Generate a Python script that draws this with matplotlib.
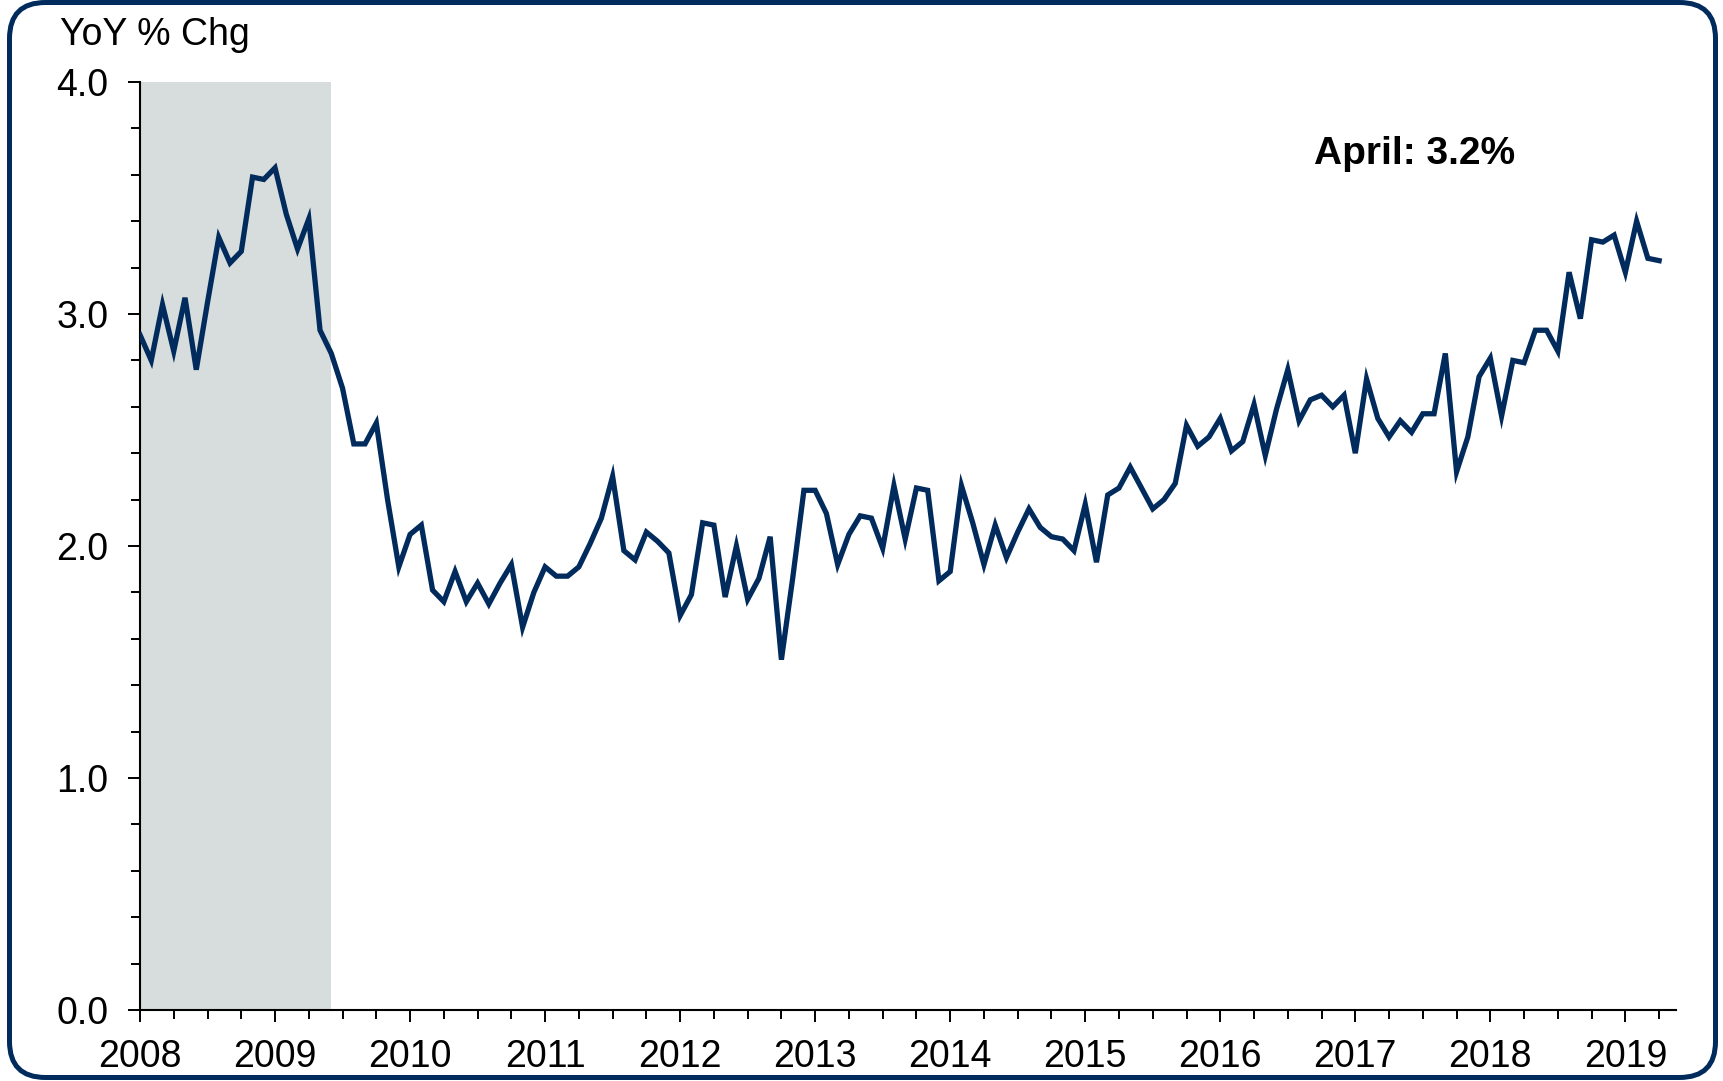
import numpy as np
import pandas as pd
import matplotlib
matplotlib.use("Agg")
import matplotlib.pyplot as plt
from matplotlib.patches import FancyBboxPatch
from matplotlib.ticker import MultipleLocator, FixedLocator

plt.rcParams['font.family'] = ['Liberation Sans', 'DejaVu Sans']

# Monthly YoY % change, Jan 2008 .. Apr 2019
values = [
    2.91, 2.80, 3.04, 2.84, 3.07, 2.76, 3.05, 3.33, 3.22, 3.27, 3.59, 3.58,   # 2008
    3.63, 3.43, 3.28, 3.41, 2.93, 2.83, 2.68, 2.44, 2.44, 2.53, 2.20, 1.91,   # 2009
    2.05, 2.09, 1.81, 1.76, 1.89, 1.76, 1.84, 1.75, 1.84, 1.92, 1.65, 1.80,   # 2010
    1.91, 1.87, 1.87, 1.91, 2.01, 2.12, 2.30, 1.98, 1.94, 2.06, 2.02, 1.97,   # 2011
    1.70, 1.79, 2.10, 2.09, 1.78, 2.00, 1.77, 1.86, 2.04, 1.51, 1.86, 2.24,   # 2012
    2.24, 2.14, 1.92, 2.05, 2.13, 2.12, 1.99, 2.26, 2.03, 2.25, 2.24, 1.85,   # 2013
    1.89, 2.26, 2.10, 1.92, 2.09, 1.95, 2.06, 2.16, 2.08, 2.04, 2.03, 1.98,   # 2014
    2.18, 1.93, 2.22, 2.25, 2.34, 2.25, 2.16, 2.20, 2.27, 2.52, 2.43, 2.47,   # 2015
    2.55, 2.41, 2.45, 2.61, 2.39, 2.59, 2.76, 2.54, 2.63, 2.65, 2.60, 2.65,   # 2016
    2.40, 2.72, 2.55, 2.47, 2.54, 2.49, 2.57, 2.57, 2.83, 2.32, 2.47, 2.73,   # 2017
    2.81, 2.56, 2.80, 2.79, 2.93, 2.93, 2.84, 3.18, 2.98, 3.32, 3.31, 3.34,   # 2018
    3.18, 3.40, 3.24, 3.23,                                                   # 2019
]
start_month = "2008-01"
recession_start = 2007 + 11 / 12   # Dec 2007
recession_end = 2009 + 5 / 12      # Jun 2009
year_ticks = list(range(2008, 2020))
y_major = [0.0, 1.0, 2.0, 3.0, 4.0]
y_label = "YoY % Chg"
annotation = "April: 3.2%"

dates = pd.date_range(start_month, periods=len(values), freq="MS")
x = dates.year + (dates.month - 1) / 12.0

navy = "#002b5c"

fig = plt.figure(figsize=(17.23, 10.81), dpi=100)
ax = fig.add_axes([140 / 1723, 1 - 1010 / 1081, (1676 - 140) / 1723, (1010 - 82) / 1081])

ax.axvspan(recession_start, recession_end, color="#d7dcdc", lw=0, zorder=0)
ax.plot(x, values, color=navy, lw=3.8, solid_joinstyle="miter", zorder=3)

ax.set_xlim(2008, 2019 + 4.5 / 12)
ax.set_ylim(0, 4)

for s in ["top", "right"]:
    ax.spines[s].set_visible(False)
for s in ["left", "bottom"]:
    ax.spines[s].set_linewidth(1.5)
    ax.spines[s].set_color("black")

ax.xaxis.set_major_locator(FixedLocator(year_ticks))
ax.set_xticklabels([str(y) for y in year_ticks])
ax.xaxis.set_minor_locator(MultipleLocator(0.25))
ax.yaxis.set_major_locator(FixedLocator(y_major))
ax.set_yticklabels([f"{v:.1f}" for v in y_major])
ax.yaxis.set_minor_locator(MultipleLocator(0.2))

ax.tick_params(axis="x", which="major", direction="out", length=8.6, width=1.4,
               labelsize=27, pad=12)
ax.tick_params(axis="x", which="minor", direction="out", length=6.3, width=1.4)
ax.tick_params(axis="y", which="major", direction="out", length=8.6, width=1.4,
               labelsize=27, pad=14)
ax.tick_params(axis="y", which="minor", direction="out", length=6.3, width=1.4)

fig.text(60 / 1723, 1 - 45 / 1081, y_label, fontsize=27, ha="left", va="baseline")
fig.text(1314 / 1723, 1 - 154 / 1081, annotation, fontsize=28, fontweight="bold",
         ha="left", va="center")

border = FancyBboxPatch((0.095, 0.035), 17.06, 10.75,
                        boxstyle="round,pad=0,rounding_size=0.36",
                        transform=fig.dpi_scale_trans, fill=False,
                        edgecolor=navy, lw=3.6, clip_on=False)
fig.add_artist(border)

fig.savefig("out.png", dpi=100)
